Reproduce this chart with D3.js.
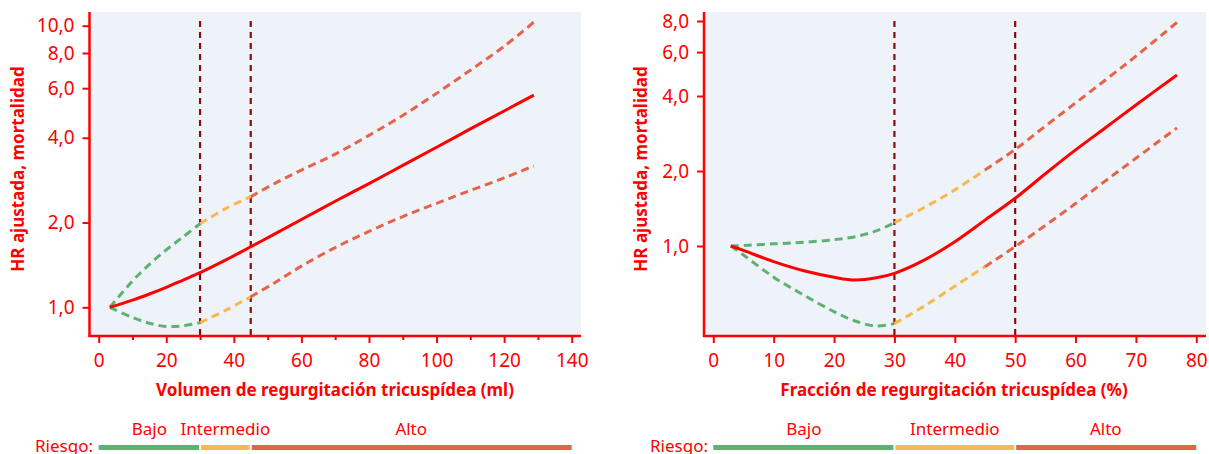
<!DOCTYPE html>
<html>
<head>
<meta charset="utf-8">
<script src="https://cdn.jsdelivr.net/npm/d3@7"></script>
<style>
  html, body { margin: 0; padding: 0; background: #ffffff; }
  svg { display: block; }
  text { font-family: "Noto Sans", sans-serif; }
</style>
</head>
<body>
<svg id="chart" width="1209" height="454"></svg>
<script>
// ---------- DATA ----------
// Left panel: volume (ml)
const leftX      = [3.3, 10, 15, 20, 25, 30, 37.5, 45, 52, 60, 70, 80, 90, 100, 110, 120, 128.8];
const leftHR     = [1.0, 1.06, 1.115, 1.178, 1.25, 1.327, 1.47, 1.64, 1.82, 2.05, 2.38, 2.75, 3.19, 3.70, 4.30, 4.98, 5.67];
const leftLower  = [1.0, 0.92, 0.878, 0.855, 0.86, 0.882, 0.975, 1.09, 1.22, 1.40, 1.63, 1.86, 2.10, 2.34, 2.60, 2.88, 3.18];
const leftUpper  = [1.0, 1.24, 1.42, 1.60, 1.78, 1.98, 2.24, 2.47, 2.75, 3.07, 3.50, 4.08, 4.80, 5.75, 6.95, 8.45, 10.3];
const leftXTicks = [0, 20, 40, 60, 80, 100, 120, 140];
const leftXMinor = [10, 30, 50, 70, 90, 110, 130];
const leftYTicks = [1, 2, 4, 6, 8, 10];
const leftCuts   = [30, 45];
const leftRisk   = [0, 30, 45, 140];

// Right panel: fraction (%)
const rightX      = [2.9, 5, 10, 15, 20, 23.5, 27, 30, 35, 40, 45, 50, 55, 60, 65, 70, 76.8];
const rightHR     = [1.0, 0.96, 0.865, 0.795, 0.749, 0.73, 0.745, 0.777, 0.88, 1.04, 1.27, 1.554, 1.95, 2.43, 2.99, 3.68, 4.86];
const rightLower  = [1.0, 0.92, 0.75, 0.635, 0.545, 0.50, 0.477, 0.488, 0.575, 0.69, 0.826, 0.994, 1.21, 1.48, 1.83, 2.25, 2.98];
const rightUpper  = [1.0, 1.005, 1.02, 1.035, 1.06, 1.09, 1.15, 1.24, 1.43, 1.68, 2.02, 2.44, 3.03, 3.75, 4.65, 5.78, 7.9];
const rightXTicks = [0, 10, 20, 30, 40, 50, 60, 70, 80];
const rightYTicks = [1, 2, 4, 6, 8];
const rightCuts   = [30, 50];
const rightRisk   = [0, 30, 50, 80];

const ciBreaks    = [30, 45];           // colour changes of the confidence band
const riskLabels  = ["Bajo", "Intermedio", "Alto"];
const riskColors  = ["#5fb172", "#f7b84c", "#e6634b"];
const yTitle      = "HR ajustada, mortalidad";
const leftXTitle  = "Volumen de regurgitación tricuspídea (ml)";
const rightXTitle = "Fracción de regurgitación tricuspídea (%)";

// ---------- DRAW ----------
const RED = "#ff0000";
const svg = d3.select("#chart");

function panel(cfg) {
  const g = svg.append("g");
  const x = d3.scaleLinear().domain(cfg.xDomain).range(cfg.xRange);
  const y = d3.scaleLog().domain(cfg.yDomain).range(cfg.yRange);

  // plot background
  g.append("rect")
    .attr("x", cfg.box[0]).attr("y", cfg.box[1])
    .attr("width", cfg.box[2] - cfg.box[0]).attr("height", cfg.box[3] - cfg.box[1])
    .attr("fill", "#eef3fa");

  // vertical cut lines
  g.selectAll(".cut").data(cfg.cuts).enter().append("line")
    .attr("x1", d => x(d)).attr("x2", d => x(d))
    .attr("y1", cfg.cutTop).attr("y2", cfg.box[3])
    .attr("stroke", "#870d0d").attr("stroke-width", 2.2)
    .attr("stroke-dasharray", "6,5");

  const pts = (vals) => cfg.xs.map((xv, i) => [xv, vals[i]]);
  const line = d3.line().x(d => x(d[0])).y(d => y(d[1])).curve(d3.curveCatmullRom.alpha(0.5));

  // confidence bounds, coloured by segment
  const segs = [[-Infinity, ciBreaks[0]], [ciBreaks[0], ciBreaks[1]], [ciBreaks[1], Infinity]];
  [cfg.lower, cfg.upper].forEach(vals => {
    const p = pts(vals);
    segs.forEach((s, i) => {
      const sub = p.filter(d => d[0] >= s[0] && d[0] <= s[1]);
      if (sub.length < 2) return;
      g.append("path").attr("d", line(sub))
        .attr("fill", "none").attr("stroke", riskColors[i])
        .attr("stroke-width", 3).attr("stroke-dasharray", "8,5");
    });
  });

  // main estimate
  g.append("path").attr("d", line(pts(cfg.hr)))
    .attr("fill", "none").attr("stroke", RED).attr("stroke-width", 3);

  // axes
  const fmt = d => d3.format(".1f")(d).replace(".", ",");
  const yAxis = g.append("g").attr("transform", `translate(${cfg.box[0]},0)`)
    .call(d3.axisLeft(y).tickValues(cfg.yTicks).tickFormat(fmt).tickSize(7).tickPadding(8));
  const xAxis = g.append("g").attr("transform", `translate(0,${cfg.box[3]})`)
    .call(d3.axisBottom(x).tickValues(cfg.xTicks).tickFormat(d3.format("d")).tickSize(7).tickPadding(11));
  if (cfg.xMinor) {
    g.append("g").attr("transform", `translate(0,${cfg.box[3]})`)
      .call(d3.axisBottom(x).tickValues(cfg.xMinor).tickFormat("").tickSize(4))
      .call(a => a.select(".domain").remove())
      .selectAll("line").attr("stroke", RED).attr("stroke-width", 2);
  }
  [yAxis, xAxis].forEach(a => {
    a.select(".domain").remove();
    a.selectAll("line").attr("stroke", RED).attr("stroke-width", 2);
    a.selectAll("text").attr("fill", RED).style("font-size", "19px")
      .style("font-family", "'Noto Sans', sans-serif");
  });
  // axis lines
  g.append("line").attr("x1", cfg.box[0]).attr("x2", cfg.box[0])
    .attr("y1", cfg.box[1]).attr("y2", cfg.box[3] + 1)
    .attr("stroke", RED).attr("stroke-width", 2.5);
  g.append("line").attr("x1", cfg.box[0] - 1).attr("x2", cfg.box[2])
    .attr("y1", cfg.box[3]).attr("y2", cfg.box[3])
    .attr("stroke", RED).attr("stroke-width", 2.5);

  // titles
  g.append("text").text(cfg.xTitle)
    .attr("x", cfg.xTitleX).attr("y", 396).attr("text-anchor", "middle")
    .attr("fill", RED).style("font-size", "17px").style("font-weight", "bold");
  g.append("text").text(yTitle)
    .attr("transform", `translate(${cfg.yTitleX},${cfg.yTitleY}) rotate(-90)`)
    .attr("text-anchor", "middle")
    .attr("fill", RED).style("font-size", "17px").style("font-weight", "bold");

  // risk bar
  const bands = riskLabels.map((l, i) => ({ label: l, a: cfg.risk[i], b: cfg.risk[i + 1], c: riskColors[i] }));
  g.selectAll(".rb").data(bands).enter().append("rect")
    .attr("x", (d, i) => x(d.a) + (i ? 1 : 0))
    .attr("width", (d, i) => x(d.b) - x(d.a) - (i ? 1 : 0) - (i < 2 ? 1 : 0))
    .attr("y", 445).attr("height", 5).attr("fill", d => d.c);
  g.selectAll(".rl").data(bands).enter().append("text")
    .text(d => d.label)
    .attr("x", d => (x(d.a) + x(d.b)) / 2).attr("y", 435)
    .attr("text-anchor", "middle").attr("fill", RED).style("font-size", "17px");
  g.append("text").text("Riesgo:")
    .attr("x", cfg.riskLabelX).attr("y", 452).attr("text-anchor", "end")
    .attr("fill", RED).style("font-size", "17px");
}

panel({
  xs: leftX, hr: leftHR, lower: leftLower, upper: leftUpper,
  xDomain: [0, 140], xRange: [98.7, 571.7],
  yDomain: [1, 10], yRange: [307.3, 25.7],
  box: [89.5, 12, 581, 336], cutTop: 21,
  xTicks: leftXTicks, xMinor: leftXMinor, yTicks: leftYTicks,
  cuts: leftCuts, risk: leftRisk,
  xTitle: leftXTitle, xTitleX: 335, yTitleX: 24, yTitleY: 169, riskLabelX: 93
});
panel({
  xs: rightX, hr: rightHR, lower: rightLower, upper: rightUpper,
  xDomain: [0, 80], xRange: [713.3, 1196.3],
  yDomain: [1, 8], yRange: [246, 21],
  box: [704, 12, 1206, 336], cutTop: 21,
  xTicks: rightXTicks, xMinor: null, yTicks: rightYTicks,
  cuts: rightCuts, risk: rightRisk,
  xTitle: rightXTitle, xTitleX: 954, yTitleX: 647, yTitleY: 169, riskLabelX: 708
});
</script>
</body>
</html>
